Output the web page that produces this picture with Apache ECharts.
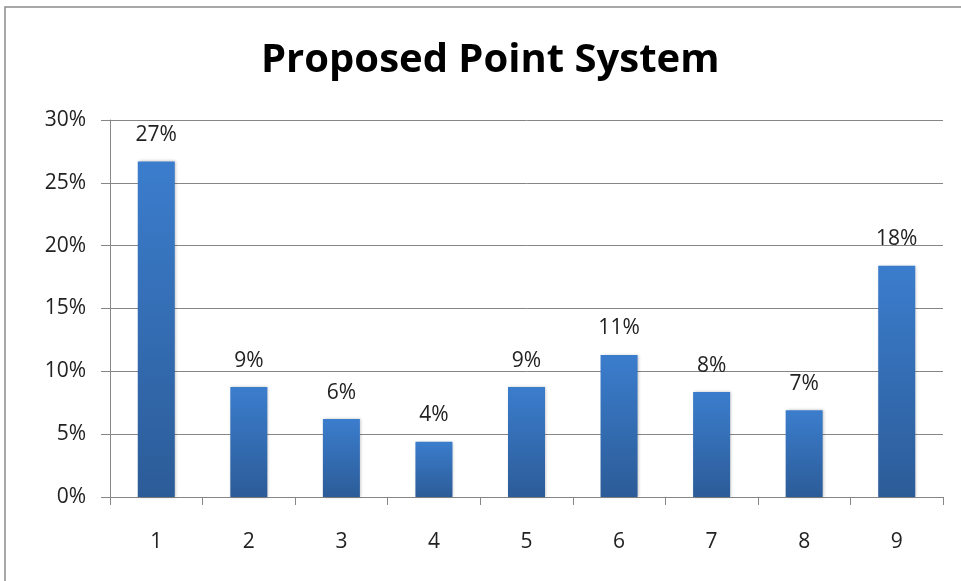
<!DOCTYPE html>
<html><head><meta charset="utf-8">
<script src="https://cdn.jsdelivr.net/npm/echarts@6/dist/echarts.min.js"></script>
<style>html,body{margin:0;padding:0;background:#fff}#c{width:961px;height:581px}</style>
</head><body><div id="c"></div>
<script>
const categories = ['1','2','3','4','5','6','7','8','9'];
const values = [26.7, 8.75, 6.2, 4.4, 8.75, 11.3, 8.35, 6.9, 18.4];
const labels = ['27%','9%','6%','4%','9%','11%','8%','7%','18%'];

const chart = echarts.init(document.getElementById('c'));
chart.setOption({
  animation: false,
  backgroundColor: '#fff',
  title: {
    text: 'Proposed Point System', left: 256, top: 36,
    textStyle: { fontFamily: 'Open Sans', fontWeight: 'bold', fontSize: 40, color: '#000' }
  },
  graphic: [{
    type: 'rect', shape: { x: 5, y: 7, width: 1000, height: 1000 },
    style: { fill: 'none', stroke: '#8c8c8c', lineWidth: 1.5 }, silent: true
  }],
  grid: { left: 110, right: 18, top: 120, bottom: 84, containLabel: false },
  xAxis: {
    type: 'category', data: categories,
    axisLine: { lineStyle: { color: '#868686', width: 1 } },
    axisTick: { show: true, length: 8, lineStyle: { color: '#868686' } },
    axisLabel: { fontFamily: 'Open Sans', fontSize: 21, color: '#222', margin: 35 }
  },
  yAxis: {
    type: 'value', min: 0, max: 30, interval: 5,
    axisLine: { show: true, lineStyle: { color: '#868686' } },
    axisTick: { show: true, length: 9, lineStyle: { color: '#868686' } },
    splitLine: { lineStyle: { color: '#868686', width: 1 } },
    axisLabel: { fontFamily: 'Open Sans', fontSize: 21, color: '#222', margin: 24, formatter: '{value}%' }
  },
  series: [{
    type: 'bar', data: values, barWidth: '40%',
    itemStyle: {
      color: new echarts.graphic.LinearGradient(0, 0, 0, 1, [
        { offset: 0, color: '#3b7dcd' }, { offset: 1, color: '#2c5c98' }
      ]),
      shadowColor: 'rgba(0,0,0,0.25)', shadowBlur: 3, shadowOffsetX: 1
    },
    label: {
      show: true, position: 'top', distance: 16,
      fontFamily: 'Open Sans', fontSize: 21, color: '#222',
      formatter: p => labels[p.dataIndex]
    }
  }]
});
</script></body></html>
